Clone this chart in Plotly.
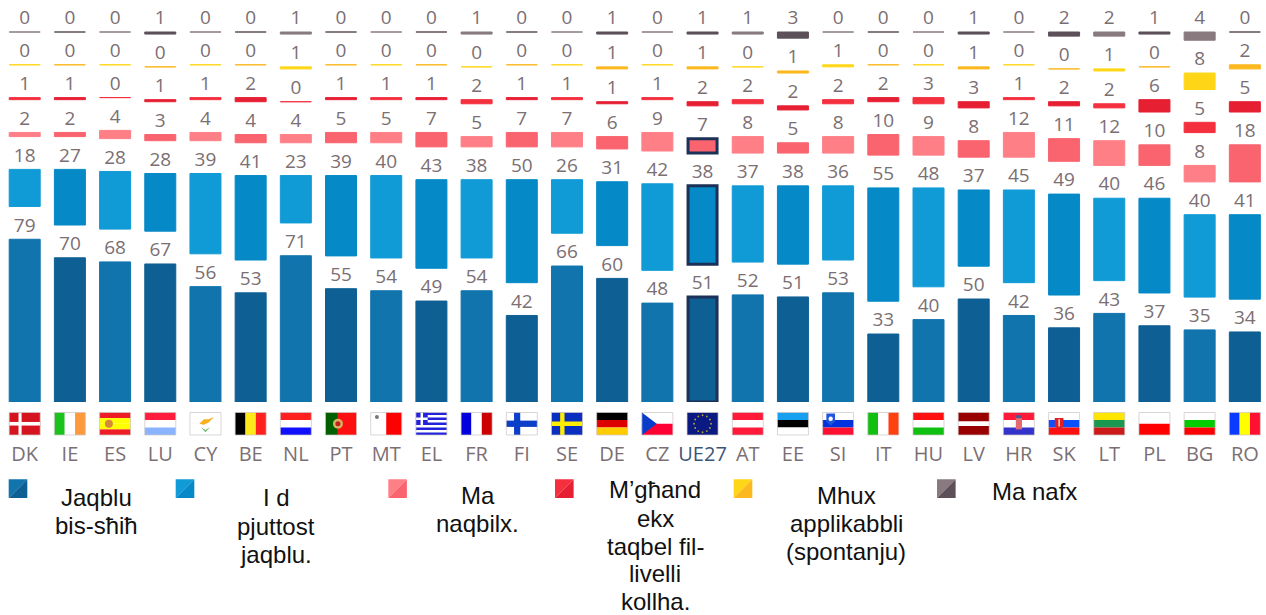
import numpy as np
import plotly.graph_objects as go

countries = ["DK","IE","ES","LU","CY","BE","NL","PT","MT","EL","FR","FI","SE","DE","CZ","UE27","AT","EE","SI","IT","HU","LV","HR","SK","LT","PL","BG","RO"]
jaqblu_bis_shih = [79,70,68,67,56,53,71,55,54,49,54,42,66,60,48,51,52,51,53,33,40,50,42,36,43,37,35,34]
pjuttost_jaqblu = [18,27,28,28,39,41,23,39,40,43,38,50,26,31,42,38,37,38,36,55,48,37,45,49,40,46,40,41]
ma_naqbilx = [2,2,4,3,4,4,4,5,5,7,5,7,7,6,9,7,8,5,8,10,9,8,12,11,12,10,8,18]
mghand_ekx = [1,1,0,1,1,2,0,1,1,1,2,1,1,1,1,2,2,2,2,2,3,3,1,2,2,6,5,5]
mhux_applikabbli = [0,0,0,0,0,0,1,0,0,0,0,0,0,1,0,1,0,1,1,0,0,1,0,0,1,0,8,2]
ma_nafx = [0,0,0,1,0,0,1,0,0,0,1,0,0,1,0,1,1,3,0,0,0,1,0,2,2,1,4,0]
series = [jaqblu_bis_shih, pjuttost_jaqblu, ma_naqbilx, mghand_ekx, mhux_applikabbli, ma_nafx]
light = ["#1174AD","#119BD6","#FF7F87","#F4303F","#FFD617","#887A7E"]
dark = ["#0E5F93","#0589C7","#F9646F","#E61F33","#FBB81F","#5D5059"]
legend_lines = [["Jaqblu","bis-sħiħ"],["I d","pjuttost","jaqblu."],["Ma","naqbilx."],
                ["M’għand","ekx","taqbel fil-","livelli","kollha."],["Mhux","applikabbli","(spontanju)"],["Ma nafx"]]

W, H = 1266, 615
BASE = 402
PITCH = 45.19
X0 = 24.7
K = 2.06
GAP = 32.8 / K
TXT = "#7B6F73"
NAVY = "#1B3157"
EU = countries.index("UE27")
n = len(countries)

def X(px): return (px - X0) / PITCH
def Y(py): return (BASE - py) / BASE

fig = go.Figure()
cum = np.zeros(n)
for s, vals in enumerate(series):
    vals = np.array(vals, float)
    cols = [light[s] if i % 2 == 0 else dark[s] for i in range(n)]
    lc = list(cols)
    lw = [1] * n
    wd = [31 / PITCH] * n
    if s < 3:
        lc[EU] = NAVY
        lw[EU] = 3
        wd[EU] = 29 / PITCH
    fig.add_trace(go.Bar(x=list(range(n)), y=vals, base=cum, width=wd,
                         marker=dict(color=cols, line=dict(color=lc, width=lw)),
                         showlegend=False, hoverinfo="skip"))
    top = cum + vals
    fig.add_trace(go.Scatter(x=list(range(n)), y=top + 3.0 / K, mode="text",
                             text=[str(int(v)) for v in vals], textposition="top center",
                             textfont=dict(family="Open Sans", size=19, color=TXT),
                             showlegend=False, hoverinfo="skip"))
    cum = top + GAP

shapes = []
FW, FT, FB = 15.5, 412.5, 435.0

def rect(i, u0, v0, u1, v1, c):
    x = X0 + PITCH * i - FW
    shapes.append(dict(type="rect", xref="x", yref="paper",
                       x0=X(x + u0 * 2 * FW), x1=X(x + u1 * 2 * FW),
                       y0=Y(FT + v0 * (FB - FT)), y1=Y(FT + v1 * (FB - FT)),
                       fillcolor=c, line=dict(width=0), layer="above"))

def poly(i, pts, c):
    x = X0 + PITCH * i - FW
    p = "M" + " L".join(f"{X(x + u * 2 * FW):.4f},{Y(FT + v * (FB - FT)):.4f}" for u, v in pts) + " Z"
    shapes.append(dict(type="path", xref="x", yref="paper", path=p, fillcolor=c,
                       line=dict(width=0), layer="above"))

def dot(i, u, v, r, c):
    x = X0 + PITCH * i - FW + u * 2 * FW
    y = FT + v * (FB - FT)
    shapes.append(dict(type="circle", xref="x", yref="paper", x0=X(x - r), x1=X(x + r),
                       y0=Y(y - r), y1=Y(y + r), fillcolor=c, line=dict(width=0), layer="above"))

def hs(i, cs):
    for k, c in enumerate(cs):
        rect(i, 0, k / len(cs), 1, (k + 1) / len(cs), c)

def vs(i, cs):
    for k, c in enumerate(cs):
        rect(i, k / len(cs), 0, (k + 1) / len(cs), 1, c)

def cross(i, c, cw, u0=0.27, u1=0.43, v0=0.38, v1=0.62):
    rect(i, 0, 0, 1, 1, c)
    rect(i, u0, 0, u1, 1, cw)
    rect(i, 0, v0, 1, v1, cw)

idx = {c: i for i, c in enumerate(countries)}
cross(idx["DK"], "#D6141F", "#FFFFFF", 0.30, 0.40, 0.42, 0.58)
vs(idx["IE"], ["#1CC21C", "#FFFFFF", "#FF9A3C"])
hs(idx["ES"], ["#EE1C25", "#FFFF00", "#FFFF00", "#EE1C25"])
dot(idx["ES"], 0.30, 0.5, 4, "#D8883A")
hs(idx["LU"], ["#FF1C3C", "#FFFFFF", "#8AB4FF"])
rect(idx["CY"], 0, 0, 1, 1, "#FFFFFF")
poly(idx["CY"], [(0.3, 0.5), (0.45, 0.3), (0.6, 0.3), (0.78, 0.2), (0.6, 0.45), (0.45, 0.55)], "#F7B01E")
poly(idx["CY"], [(0.35, 0.65), (0.5, 0.78), (0.65, 0.65), (0.5, 0.88)], "#6DC066")
vs(idx["BE"], ["#000000", "#FFE81A", "#FF2020"])
hs(idx["NL"], ["#FF2020", "#FFFFFF", "#1010FF"])
rect(idx["PT"], 0, 0, 0.4, 1, "#006000")
rect(idx["PT"], 0.4, 0, 1, 1, "#FF1010")
dot(idx["PT"], 0.4, 0.5, 5, "#D8B060")
dot(idx["PT"], 0.4, 0.5, 2.5, "#C02020")
rect(idx["MT"], 0, 0, 0.5, 1, "#FFFFFF")
rect(idx["MT"], 0.5, 0, 1, 1, "#FF0000")
dot(idx["MT"], 0.2, 0.2, 2, "#777777")
hs(idx["EL"], ["#2222DD" if k % 2 == 0 else "#FFFFFF" for k in range(9)])
rect(idx["EL"], 0, 0, 0.38, 5 / 9, "#2222DD")
rect(idx["EL"], 0.15, 0, 0.23, 5 / 9, "#FFFFFF")
rect(idx["EL"], 0, 2 / 9, 0.38, 3 / 9, "#FFFFFF")
vs(idx["FR"], ["#0000DD", "#FFFFFF", "#CC0000"])
cross(idx["FI"], "#FFFFFF", "#0B3FC8", 0.25, 0.45, 0.36, 0.64)
cross(idx["SE"], "#0A2FC0", "#FFEE00", 0.28, 0.42, 0.40, 0.60)
hs(idx["DE"], ["#000000", "#DD0000", "#FFCC00"])
hs(idx["CZ"], ["#FFFFFF", "#FF0033"])
poly(idx["CZ"], [(0, 0), (0.48, 0.5), (0, 1)], "#0A3CCC")
rect(idx["UE27"], 0, 0, 1, 1, "#0A1A80")
for a in np.linspace(0, 2 * np.pi, 12, endpoint=False):
    dot(idx["UE27"], 0.5 + 8.5 * np.cos(a) / 31, 0.5 + 8.5 * np.sin(a) / 22.5, 0.9, "#B8A830")
hs(idx["AT"], ["#FF1A3A", "#FFFFFF", "#FF1A3A"])
hs(idx["EE"], ["#18A0F0", "#000000", "#FFFFFF"])
hs(idx["SI"], ["#FFFFFF", "#0033DD", "#FF1030"])
poly(idx["SI"], [(0.12, 0.05), (0.4, 0.05), (0.4, 0.4), (0.26, 0.58), (0.12, 0.4)], "#2255DD")
dot(idx["SI"], 0.26, 0.28, 2.2, "#FFFFFF")
vs(idx["IT"], ["#10C010", "#FFFFFF", "#FF4010"])
hs(idx["HU"], ["#FF1010", "#FFFFFF", "#10C010"])
for k, c in enumerate(["#990000", "#FFFFFF", "#990000"]):
    rect(idx["LV"], 0, [0, 0.4, 0.6][k], 1, [0.4, 0.6, 1][k], c)
hs(idx["HR"], ["#FF1A3A", "#FFFFFF", "#3333CC"])
rect(idx["HR"], 0.4, 0.18, 0.6, 0.75, "#E36A70")
rect(idx["HR"], 0.4, 0.12, 0.6, 0.25, "#555588")
hs(idx["SK"], ["#FFFFFF", "#0A50FF", "#FF1010"])
poly(idx["SK"], [(0.2, 0.25), (0.48, 0.25), (0.48, 0.6), (0.34, 0.8), (0.2, 0.6)], "#E02020")
rect(idx["SK"], 0.32, 0.3, 0.36, 0.62, "#FFFFFF")
hs(idx["LT"], ["#FFE600", "#1A9850", "#CC1A1A"])
hs(idx["PL"], ["#FFFFFF", "#FF0000"])
hs(idx["BG"], ["#FFFFFF", "#00CC00", "#FF0000"])
vs(idx["RO"], ["#0A3CFF", "#FFFF00", "#FF1030"])
for i in range(n):
    x = X0 + PITCH * i - FW
    shapes.append(dict(type="rect", xref="x", yref="paper", x0=X(x), x1=X(x + 2 * FW),
                       y0=Y(FT), y1=Y(FB), fillcolor="rgba(0,0,0,0)",
                       line=dict(width=1, color="rgba(205,195,195,0.7)"), layer="above"))

# legend swatches and text
sw_x = [8.7, 175.7, 388.3, 555, 733.7, 937]
sw_w, sw_y0, sw_y1 = 18.6, 479.3, 498
txt_x = [96, 276, 478, 655, 846, 1034]
txt_y = [[497, 525], [497, 526, 554], [495, 523], [490, 518, 546, 573.5, 601], [495, 523, 551], [491]]
annotations = []
for s in range(6):
    a, b = sw_x[s] / W, (sw_x[s] + sw_w) / W
    t, u = Y(sw_y0), Y(sw_y1)
    shapes.append(dict(type="path", xref="paper", yref="paper",
                       path=f"M{a},{t} L{b},{t} L{a},{u} Z", fillcolor=light[s], line=dict(width=0)))
    shapes.append(dict(type="path", xref="paper", yref="paper",
                       path=f"M{b},{t} L{b},{u} L{a},{u} Z", fillcolor=dark[s], line=dict(width=0)))
    for line, py in zip(legend_lines[s], txt_y[s]):
        annotations.append(dict(text=line, x=txt_x[s] / W, y=Y(py), xref="paper", yref="paper",
                                xanchor="center", yanchor="middle", showarrow=False,
                                font=dict(family="Liberation Sans", size=24, color="#111111")))

ticktext = [f'<span style="color:#3A5578">{c}</span>' if c == "UE27" else c for c in countries]
fig.update_layout(
    width=W, height=H, margin=dict(l=0, r=0, t=0, b=H - BASE, pad=0),
    paper_bgcolor="white", plot_bgcolor="white", barmode="overlay",
    shapes=shapes, annotations=annotations,
    xaxis=dict(range=[X(0), X(W)], tickmode="array", tickvals=list(range(n)), ticktext=ticktext,
               ticks="outside", ticklen=34, tickcolor="rgba(0,0,0,0)", showgrid=False, zeroline=False,
               showline=False, tickangle=0, tickfont=dict(family="Open Sans", size=20, color=TXT)),
    yaxis=dict(range=[0, BASE / K], visible=False),
)
fig.write_html("out.html", config=dict(displayModeBar=False),
               post_script="document.body.style.margin='0';document.body.style.overflow='hidden';")
